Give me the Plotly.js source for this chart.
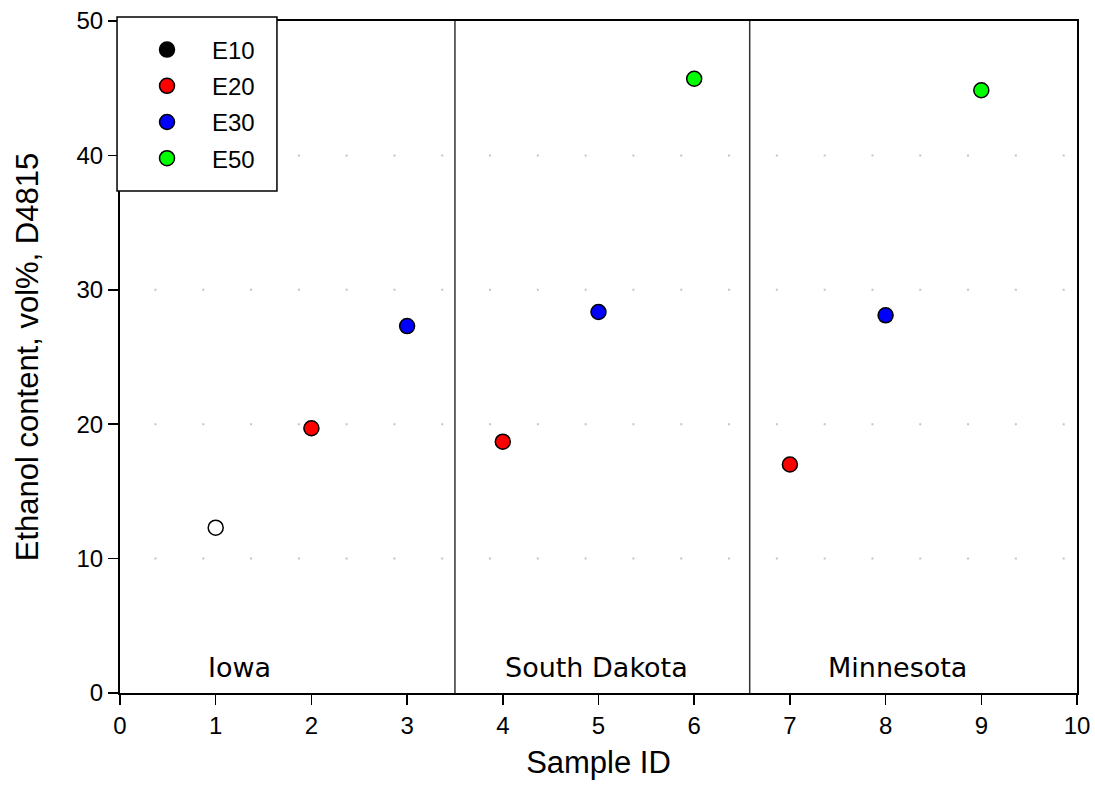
<!DOCTYPE html>
<html>
<head>
<meta charset="utf-8">
<script src="https://cdn.plot.ly/plotly-3.0.1.min.js"></script>
<style>html,body{margin:0;padding:0;background:#fff;}#chart{width:1095px;height:802px;}</style>
</head>
<body>
<div id="chart"></div>
<script>
// Data
const blendNames = ['E10', 'E20', 'E30', 'E50'];
const blendColors = ['#000000', '#ff0000', '#0000ff', '#00ff00'];
const e10Ids = [1];
const e10Values = [12.3];
const e20Ids = [2, 4, 7];
const e20Values = [19.7, 18.7, 17.0];
const e30Ids = [3, 5, 8];
const e30Values = [27.3, 28.35, 28.1];
const e50Ids = [6, 9];
const e50Values = [45.7, 44.85];
const regionNames = ['Iowa', 'South Dakota', 'Minnesota'];
const regionStarts = [0.9, 4.0, 7.38];
const regionSeparators = [3.5, 6.58];
const gridValues = [10, 20, 30, 40];
const xTickVals = [0, 1, 2, 3, 4, 5, 6, 7, 8, 9, 10];
const yTickVals = [0, 10, 20, 30, 40, 50];

const FONT = 'Liberation Sans, Arial, sans-serif';
const markerLine = {color: '#000000', width: 1.5};
const MS = 15;

const ids = [e10Ids, e20Ids, e30Ids, e50Ids];
const vals = [e10Values, e20Values, e30Values, e50Values];

const traces = [];
// E10 data point drawn hollow; legend entry drawn filled black
traces.push({
  type: 'scatter', mode: 'markers', x: e10Ids, y: e10Values, name: blendNames[0],
  showlegend: false, legendgroup: 'g0', cliponaxis: false,
  marker: {size: MS, color: '#ffffff', line: markerLine}
});
traces.push({
  type: 'scatter', mode: 'markers', x: [null], y: [null], name: blendNames[0],
  showlegend: true, legendgroup: 'g0',
  marker: {size: MS, color: blendColors[0], line: markerLine}
});
for (let i = 1; i < blendNames.length; i++) {
  traces.push({
    type: 'scatter', mode: 'markers', x: ids[i], y: vals[i], name: blendNames[i],
    legendgroup: 'g' + i, cliponaxis: false,
    marker: {size: MS, color: blendColors[i], line: markerLine}
  });
}

const shapes = [];
gridValues.forEach(v => shapes.push({
  type: 'line', xref: 'x', yref: 'y', x0: 0.36, x1: 10, y0: v, y1: v, layer: 'below',
  line: {color: '#c4c4c4', width: 2, dash: '2px,45.8px'}
}));
regionSeparators.forEach(v => shapes.push({
  type: 'line', xref: 'x', yref: 'y', x0: v, x1: v, y0: 0, y1: 50, layer: 'above',
  line: {color: '#333333', width: 1.5}
}));
// legend frame
shapes.push({
  type: 'rect', xref: 'paper', yref: 'paper', x0: -0.0031, x1: 0.164, y0: 0.747, y1: 1.006,
  layer: 'above', fillcolor: '#ffffff', line: {color: '#000000', width: 1.5}
});

const annotations = regionNames.map((t, i) => ({
  text: t, x: regionStarts[i], y: 1.9, xref: 'x', yref: 'y', xanchor: 'left', yanchor: 'middle',
  showarrow: false, font: {family: 'DejaVu Sans, Verdana, sans-serif', size: 27, color: '#000'}
}));

const layout = {
  width: 1095, height: 802,
  margin: {l: 120, r: 18, t: 21, b: 109},
  paper_bgcolor: '#ffffff', plot_bgcolor: '#ffffff',
  font: {family: FONT, color: '#000000', size: 24},
  showlegend: true,
  legend: {
    x: 0.0021, y: 0.8765, xanchor: 'left', yanchor: 'middle',
    bgcolor: 'rgba(0,0,0,0)', borderwidth: 0,
    font: {family: FONT, size: 24, color: '#000'},
    itemwidth: 80, tracegroupgap: 2
  },
  xaxis: {
    range: [0, 10], tickvals: xTickVals, ticks: 'outside', ticklen: 10, tickwidth: 1.5, tickcolor: '#000',
    showline: true, linecolor: '#000', linewidth: 2, mirror: true, showgrid: false, zeroline: false,
    tickfont: {family: FONT, size: 24, color: '#000'},
    title: {text: 'Sample ID', font: {family: FONT, size: 31, color: '#000'}, standoff: 14}
  },
  yaxis: {
    range: [0, 50], tickvals: yTickVals, ticks: 'outside', ticklen: 10, tickwidth: 1.5, tickcolor: '#000',
    showline: true, linecolor: '#000', linewidth: 2, mirror: true, showgrid: false, zeroline: false,
    tickfont: {family: FONT, size: 24, color: '#000'},
    title: {text: 'Ethanol content, vol%, D4815', font: {family: FONT, size: 31, color: '#000'}, standoff: 29}
  },
  shapes: shapes,
  annotations: annotations
};

Plotly.newPlot('chart', traces, layout, {displayModeBar: false, staticPlot: true});
</script>
</body>
</html>
